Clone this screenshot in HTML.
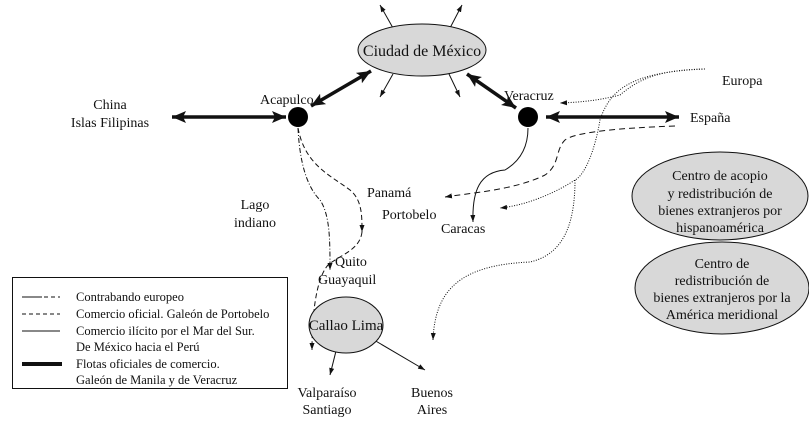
<!DOCTYPE html>
<html><head><meta charset="utf-8"><style>
body{margin:0;background:#fff}
svg text{font-family:"Liberation Serif","DejaVu Serif",serif;font-size:14px;fill:#111}
</style></head><body>
<svg width="809" height="430" viewBox="0 0 809 430" xmlns="http://www.w3.org/2000/svg" font-family="Liberation Serif, DejaVu Serif, serif">
<defs>
<marker id="a" markerWidth="8" markerHeight="8" refX="7" refY="4" orient="auto" markerUnits="userSpaceOnUse"><path d="M0,1.5 L7,4 L0,6.5z" fill="#111"/></marker>
<marker id="b" markerWidth="16" markerHeight="14" refX="14" refY="7" orient="auto-start-reverse" markerUnits="userSpaceOnUse"><path d="M0,1 L14,7 L0,13 L3,7z" fill="#111"/></marker>
</defs>
<g fill="none" stroke="#111">
<line x1="393" y1="28" x2="380" y2="5" marker-end="url(#a)"/>
<line x1="450" y1="28" x2="462" y2="5" marker-end="url(#a)"/>
<line x1="393" y1="74" x2="380" y2="97" marker-end="url(#a)"/>
<line x1="449" y1="74" x2="460" y2="97" marker-end="url(#a)"/>
<line x1="311" y1="106" x2="371" y2="71" stroke-width="3.5" marker-start="url(#b)" marker-end="url(#b)"/>
<line x1="467" y1="74" x2="516" y2="108" stroke-width="3.5" marker-start="url(#b)" marker-end="url(#b)"/>
<line x1="172" y1="117" x2="286" y2="117" stroke-width="3.5" marker-start="url(#b)" marker-end="url(#b)"/>
<line x1="546" y1="117" x2="679" y2="117" stroke-width="3.5" marker-start="url(#b)" marker-end="url(#b)"/>
<path d="M705,69 C660,70 640,78 620,95 C600,100 585,102 560,103" stroke-dasharray="1,1.5" marker-end="url(#a)"/>
<path d="M705,69 C630,72 610,90 600,120 C595,150 585,175 575,180 C560,190 530,205 500,208" stroke-dasharray="1,1.5" marker-end="url(#a)"/>
<path d="M575,180 C575,230 560,255 530,262 C460,265 435,290 433,340" stroke-dasharray="1,1.5" marker-end="url(#a)"/>
<path d="M675,126 C620,128 575,132 565,140 C555,150 560,165 545,175 C515,190 470,193 445,197" stroke-dasharray="6,4" marker-end="url(#a)"/>
<path d="M528,128 C528,145 522,160 505,170 C480,172 472,190 473,222" marker-end="url(#a)"/>
<path d="M298,128 C300,170 310,190 320,200 C330,215 330,240 330,270" stroke-dasharray="5,2,1,2" marker-end="url(#a)"/>
<path d="M298,128 C305,165 330,175 350,190 C362,200 362,215 362,232" stroke-dasharray="5,3" marker-end="url(#a)"/>
<path d="M362,232 C360,250 340,255 328,265 C315,280 312,320 312,350" stroke-dasharray="5,3" marker-end="url(#a)"/>
<line x1="336" y1="351" x2="330" y2="375" marker-end="url(#a)"/>
<line x1="374" y1="340" x2="425" y2="370" marker-end="url(#a)"/>
</g>
<ellipse cx="422" cy="50" rx="64" ry="26" fill="#d8d8d8" stroke="#111"/>
<ellipse cx="346" cy="325" rx="37" ry="28" fill="#d8d8d8" stroke="#111"/>
<ellipse cx="720" cy="196" rx="88" ry="44" fill="#d8d8d8" stroke="#111"/>
<ellipse cx="722" cy="288" rx="87" ry="46" fill="#d8d8d8" stroke="#111"/>
<circle cx="298" cy="117" r="10" fill="#000"/>
<circle cx="528" cy="117" r="10" fill="#000"/>
<text x="422" y="56" text-anchor="middle" style="font-size:16px">Ciudad de México</text>
<text x="346" y="330" text-anchor="middle" style="font-size:15px">Callao Lima</text>
<g text-anchor="middle">
<text x="720" y="180">Centro de acopio</text>
<text x="720" y="198">y redistribución de</text>
<text x="720" y="215">bienes extranjeros por</text>
<text x="720" y="232">hispanoamérica</text>
<text x="722" y="268">Centro de</text>
<text x="722" y="285">redistribución de</text>
<text x="722" y="302">bienes extranjeros por la</text>
<text x="722" y="319">América meridional</text>
<text x="110" y="109">China</text>
<text x="110" y="127">Islas Filipinas</text>
<text x="255" y="209">Lago</text>
<text x="255" y="227">indiano</text>
<text x="327" y="397">Valparaíso</text>
<text x="327" y="414">Santiago</text>
<text x="432" y="397">Buenos</text>
<text x="432" y="414">Aires</text>
</g>
<text x="260" y="104">Acapulco</text>
<text x="504" y="100">Veracruz</text>
<text x="722" y="85">Europa</text>
<text x="690" y="122">España</text>
<text x="367" y="197">Panamá</text>
<text x="382" y="219">Portobelo</text>
<text x="441" y="233">Caracas</text>
<text x="335" y="266">Quito</text>
<text x="318" y="284">Guayaquil</text>
<rect x="12.5" y="277.5" width="275" height="111" fill="none" stroke="#111"/>
<g stroke="#111" fill="none">
<path d="M22,297 H42" /><path d="M44,297 H60" stroke-dasharray="4,3"/>
<path d="M22,314 H60" stroke-dasharray="4,3"/>
<path d="M22,331 H60"/>
<path d="M22,364 H62" stroke-width="4"/>
</g>
<text x="76" y="301" style="font-size:12.5px">Contrabando europeo</text>
<text x="76" y="318" style="font-size:12.5px">Comercio oficial. Galeón de Portobelo</text>
<text x="76" y="335" style="font-size:12.5px">Comercio ilícito por el Mar del Sur.</text>
<text x="76" y="351" style="font-size:12.5px">De México hacia el Perú</text>
<text x="76" y="368" style="font-size:12.5px">Flotas oficiales de comercio.</text>
<text x="76" y="384" style="font-size:12.5px">Galeón de Manila y de Veracruz</text>
</svg>
</body></html>
